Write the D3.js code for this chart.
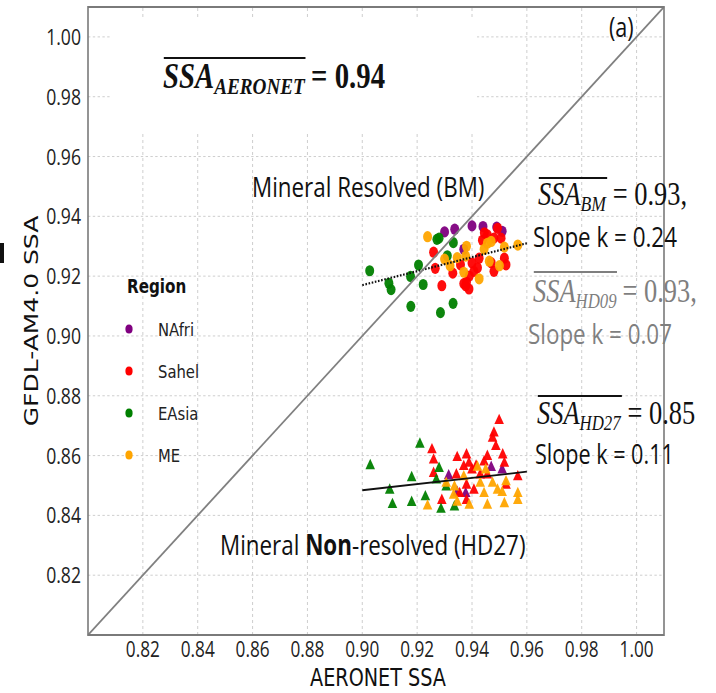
<!DOCTYPE html>
<html>
<head>
<meta charset="utf-8">
<title>GFDL-AM4.0 SSA vs AERONET SSA</title>
<script src="https://d3js.org/d3.v7.min.js"></script>
<style>
  body { margin: 0; background: #fff; }
  svg { display: block; }
</style>
</head>
<body>
<svg id="chart" width="716" height="693"></svg>
<script>
// ---- data ----
var regions = ["NAfri", "Sahel", "EAsia", "ME"];
var regionColors = ["#800080", "#ff0000", "#008000", "#ffa500"];
var tickValues = [0.82, 0.84, 0.86, 0.88, 0.90, 0.92, 0.94, 0.96, 0.98, 1.00];
var tickLabels = ["0.82", "0.84", "0.86", "0.88", "0.90", "0.92", "0.94", "0.96", "0.98", "1.00"];

// Mineral resolved (BM), circles: [AERONET SSA, model SSA]
var bmNAfri = [[0.930, 0.9348], [0.9337, 0.9357], [0.940, 0.9368], [0.944, 0.9366],
               [0.949, 0.9364], [0.951, 0.935], [0.937, 0.929]];
var bmSahel = [[0.926, 0.928], [0.9266, 0.9226], [0.929, 0.9168], [0.933, 0.921],
               [0.9377, 0.9168], [0.938, 0.918], [0.940, 0.9244], [0.942, 0.9228],
               [0.9438, 0.932], [0.9456, 0.9338], [0.9493, 0.936], [0.948, 0.9216],
               [0.9518, 0.926], [0.9524, 0.9238], [0.9407, 0.9216], [0.9358, 0.9238],
               [0.948, 0.9327], [0.9506, 0.9327], [0.9426, 0.926], [0.947, 0.9245],
               [0.939, 0.920], [0.937, 0.9175], [0.9389, 0.9157], [0.9445, 0.9345]];
var bmEAsia = [[0.9027, 0.9218], [0.9097, 0.9176], [0.9105, 0.9155], [0.9176, 0.9199],
               [0.9205, 0.9237], [0.9222, 0.9172], [0.9177, 0.9099], [0.9285, 0.9078],
               [0.9331, 0.9109], [0.9272, 0.9323], [0.928, 0.9327], [0.9332, 0.9312],
               [0.931, 0.9268]];
var bmME = [[0.9238, 0.9332], [0.930, 0.9257], [0.9346, 0.9262], [0.937, 0.9213],
            [0.938, 0.930], [0.9377, 0.9267], [0.9426, 0.9191], [0.9444, 0.929],
            [0.9456, 0.931], [0.947, 0.9316], [0.9463, 0.925], [0.950, 0.9235],
            [0.9518, 0.9297], [0.9567, 0.9304], [0.932, 0.9235]];

// Mineral non-resolved (HD27), triangles
var hdNAfri = [[0.9315, 0.8532], [0.947, 0.856], [0.951, 0.8552], [0.9346, 0.8477],
               [0.9377, 0.8473]];
var hdSahel = [[0.9254, 0.8619], [0.926, 0.8585], [0.926, 0.854], [0.9346, 0.8593],
               [0.938, 0.8602], [0.9389, 0.8574], [0.937, 0.8563], [0.940, 0.8552],
               [0.9444, 0.8578], [0.9456, 0.8597], [0.9475, 0.8658], [0.948, 0.8675],
               [0.9499, 0.8717], [0.9487, 0.863], [0.9512, 0.8602], [0.9518, 0.8574],
               [0.9567, 0.8529], [0.9343, 0.8535], [0.929, 0.845], [0.938, 0.845],
               [0.9355, 0.8473], [0.9407, 0.8484], [0.938, 0.8501], [0.9524, 0.8501],
               [0.9456, 0.8535], [0.943, 0.8535], [0.9415, 0.8565]];
var hdEAsia = [[0.9029, 0.8566], [0.921, 0.8638], [0.910, 0.8484], [0.911, 0.8436],
               [0.918, 0.8526], [0.918, 0.8443], [0.923, 0.8462], [0.928, 0.8557],
               [0.927, 0.8518], [0.9287, 0.842], [0.9336, 0.8428], [0.9306, 0.8495]];
var hdME = [[0.9238, 0.8431], [0.9306, 0.8507], [0.9336, 0.8495], [0.9346, 0.8444],
            [0.937, 0.8529], [0.942, 0.8561], [0.945, 0.8552], [0.943, 0.8507],
            [0.9444, 0.8473], [0.9456, 0.8434], [0.9475, 0.8507], [0.9493, 0.8484],
            [0.951, 0.8476], [0.9518, 0.8439], [0.9524, 0.8512], [0.9567, 0.8473],
            [0.9567, 0.845], [0.939, 0.8434], [0.9333, 0.8467]];

// fitted lines (end points)
var bmFit = [[0.90, 0.917], [0.96, 0.931]];
var hdFit = [[0.90, 0.8484], [0.96, 0.8546]];
var oneToOne = [[0.80, 0.80], [1.01, 1.01]];

// ---- drawing ----
// the source figure is squeezed horizontally, so draw in a wider
// user space and let the viewBox squash it
var sx = 0.8;
var svg = d3.select("#chart")
  .attr("viewBox", "0 0 " + (716 / sx) + " 693")
  .attr("preserveAspectRatio", "none");

var x = d3.scaleLinear().domain([0.80, 1.01]).range([88 / sx, 664 / sx]);
var y = d3.scaleLinear().domain([0.80, 1.01]).range([635, 7]);

// small stray mark on the left edge of the original
svg.append("rect").attr("x", 0).attr("y", 243).attr("width", 5).attr("height", 20).attr("fill", "#111");

// grid
var grid = svg.append("g").attr("stroke", "#c8c8c8").attr("stroke-width", 1).attr("stroke-dasharray", "3,3");
grid.selectAll(".gx").data(tickValues).enter().append("line")
  .attr("x1", d => x(d)).attr("x2", d => x(d)).attr("y1", y(0.80)).attr("y2", y(1.01));
grid.selectAll(".gy").data(tickValues).enter().append("line")
  .attr("x1", x(0.80)).attr("x2", x(1.01)).attr("y1", d => y(d)).attr("y2", d => y(d));

// white box behind the AERONET mean
svg.append("rect").attr("x", 110 / sx).attr("y", 20).attr("width", 367 / sx).attr("height", 112).attr("fill", "#fff");

// points
var bmSets = [bmNAfri, bmSahel, bmEAsia, bmME];
var hdSets = [hdNAfri, hdSahel, hdEAsia, hdME];
var tri = d3.symbol().type(d3.symbolTriangle).size(62);

bmSets.forEach(function (set, i) {
  svg.append("g").selectAll("circle").data(set).enter().append("circle")
    .attr("cx", d => x(d[0])).attr("cy", d => y(d[1])).attr("r", 5.6)
    .attr("fill", regionColors[i]).attr("fill-opacity", 0.95);
});
hdSets.forEach(function (set, i) {
  svg.append("g").selectAll("path").data(set).enter().append("path")
    .attr("d", tri)
    .attr("transform", d => "translate(" + x(d[0]) + "," + y(d[1]) + ")")
    .attr("fill", regionColors[i]).attr("fill-opacity", 0.95);
});

var line = d3.line().x(d => x(d[0])).y(d => y(d[1]));
svg.append("path").attr("d", line(bmFit)).attr("fill", "none")
  .attr("stroke", "#111").attr("stroke-width", 2.2).attr("stroke-dasharray", "2,2");
svg.append("path").attr("d", line(hdFit)).attr("fill", "none")
  .attr("stroke", "#111").attr("stroke-width", 1.8);
svg.append("path").attr("d", line(oneToOne)).attr("fill", "none")
  .attr("stroke", "#808080").attr("stroke-width", 2);

// frame
svg.append("rect").attr("x", x(0.80)).attr("y", y(1.01))
  .attr("width", x(1.01) - x(0.80)).attr("height", y(0.80) - y(1.01))
  .attr("fill", "none").attr("stroke", "#7a7a7a").attr("stroke-width", 2);

// tick labels
var tickFont = "'Open Sans', sans-serif";
svg.append("g").selectAll("text").data(tickValues).enter().append("text")
  .attr("x", d => x(d)).attr("y", 657).attr("text-anchor", "middle")
  .attr("font-family", tickFont).attr("font-size", 21.5).attr("fill", "#222")
  .text((d, i) => tickLabels[i]);
svg.append("g").selectAll("text").data(tickValues).enter().append("text")
  .attr("x", 81 / sx).attr("y", d => y(d) + 8).attr("text-anchor", "end")
  .attr("font-family", tickFont).attr("font-size", 22).attr("fill", "#222")
  .text((d, i) => tickLabels[i]);

// axis titles
svg.append("text").attr("x", 378 / sx).attr("y", 686).attr("text-anchor", "middle")
  .attr("font-family", "'DejaVu Sans', sans-serif").attr("font-size", 24).attr("fill", "#111")
  .text("AERONET SSA");
svg.append("text").attr("transform", "translate(" + (38 / sx) + ",321) rotate(-90)")
  .attr("text-anchor", "middle")
  .attr("font-family", "'DejaVu Sans', sans-serif").attr("font-size", 25).attr("fill", "#111")
  .text("GFDL-AM4.0 SSA");

svg.append("text").attr("x", 609 / sx).attr("y", 37)
  .attr("font-family", "'Open Sans', sans-serif").attr("font-size", 27).attr("fill", "#111")
  .text("(a)");

// mean SSA annotations: overlined italic SSA with subscript, then the value
function meanLabel(px, base, sub, rest, o) {
  var g = svg.append("g").attr("fill", o.color);
  var t = g.append("text").attr("x", px / sx).attr("y", base)
    .attr("font-family", "'Liberation Serif', serif").attr("font-style", "italic")
    .attr("font-weight", o.bold ? "bold" : "normal");
  t.append("tspan").attr("font-size", o.size).text("SSA");
  t.append("tspan").attr("font-size", o.subSize).attr("dy", 6).text(sub);
  var bb = t.node().getBBox();
  g.append("line").attr("x1", bb.x + 1).attr("x2", bb.x + bb.width)
    .attr("y1", base - o.over).attr("y2", base - o.over)
    .attr("stroke", o.color).attr("stroke-width", 2);
  g.append("text").attr("x", bb.x + bb.width + 7).attr("y", base)
    .attr("font-family", "'Liberation Serif', serif")
    .attr("font-weight", o.bold ? "bold" : "normal")
    .attr("font-size", o.size).text(rest);
}
meanLabel(163, 88, "AERONET", "= 0.94", {size: 36, subSize: 24, over: 30, bold: true, color: "#111"});
meanLabel(538, 205, "BM", "= 0.93,", {size: 33, subSize: 22, over: 27, bold: false, color: "#111"});
meanLabel(533, 302, "HD09", "= 0.93,", {size: 33, subSize: 21, over: 30, bold: false, color: "#7f7f7f"});
meanLabel(537, 424, "HD27", "= 0.85", {size: 33, subSize: 21, over: 28, bold: false, color: "#111"});

function plainLabel(px, base, size, color, txt) {
  return svg.append("text").attr("x", px / sx).attr("y", base)
    .attr("font-family", "'Open Sans', sans-serif").attr("font-size", size).attr("fill", color)
    .text(txt);
}
plainLabel(533, 247, 28, "#111", "Slope k = 0.24");
plainLabel(528, 344, 28, "#7f7f7f", "Slope k = 0.07");
plainLabel(535, 464, 27, "#111", "Slope k = 0.11");
plainLabel(252, 197, 28, "#111", "Mineral Resolved (BM)");
var nr = plainLabel(220, 555, 28, "#111", "");
nr.append("tspan").text("Mineral ");
nr.append("tspan").attr("font-weight", "bold").text("Non");
nr.append("tspan").text("-resolved (HD27)");

// legend
var lg = svg.append("g").attr("font-family", "'DejaVu Sans', sans-serif");
lg.append("text").attr("x", 127 / sx).attr("y", 293).attr("font-size", 19)
  .attr("font-weight", "bold").attr("fill", "#111").text("Region");
var items = lg.selectAll(".item").data(regions).enter().append("g")
  .attr("transform", (d, i) => "translate(0," + (329 + i * 42) + ")");
items.append("circle").attr("cx", 129 / sx).attr("cy", 0).attr("r", 4.5)
  .attr("fill", (d, i) => regionColors[i]);
items.append("text").attr("x", 158 / sx).attr("y", 7).attr("font-size", 18.5)
  .attr("fill", "#222").text(d => d);
</script>
</body>
</html>
